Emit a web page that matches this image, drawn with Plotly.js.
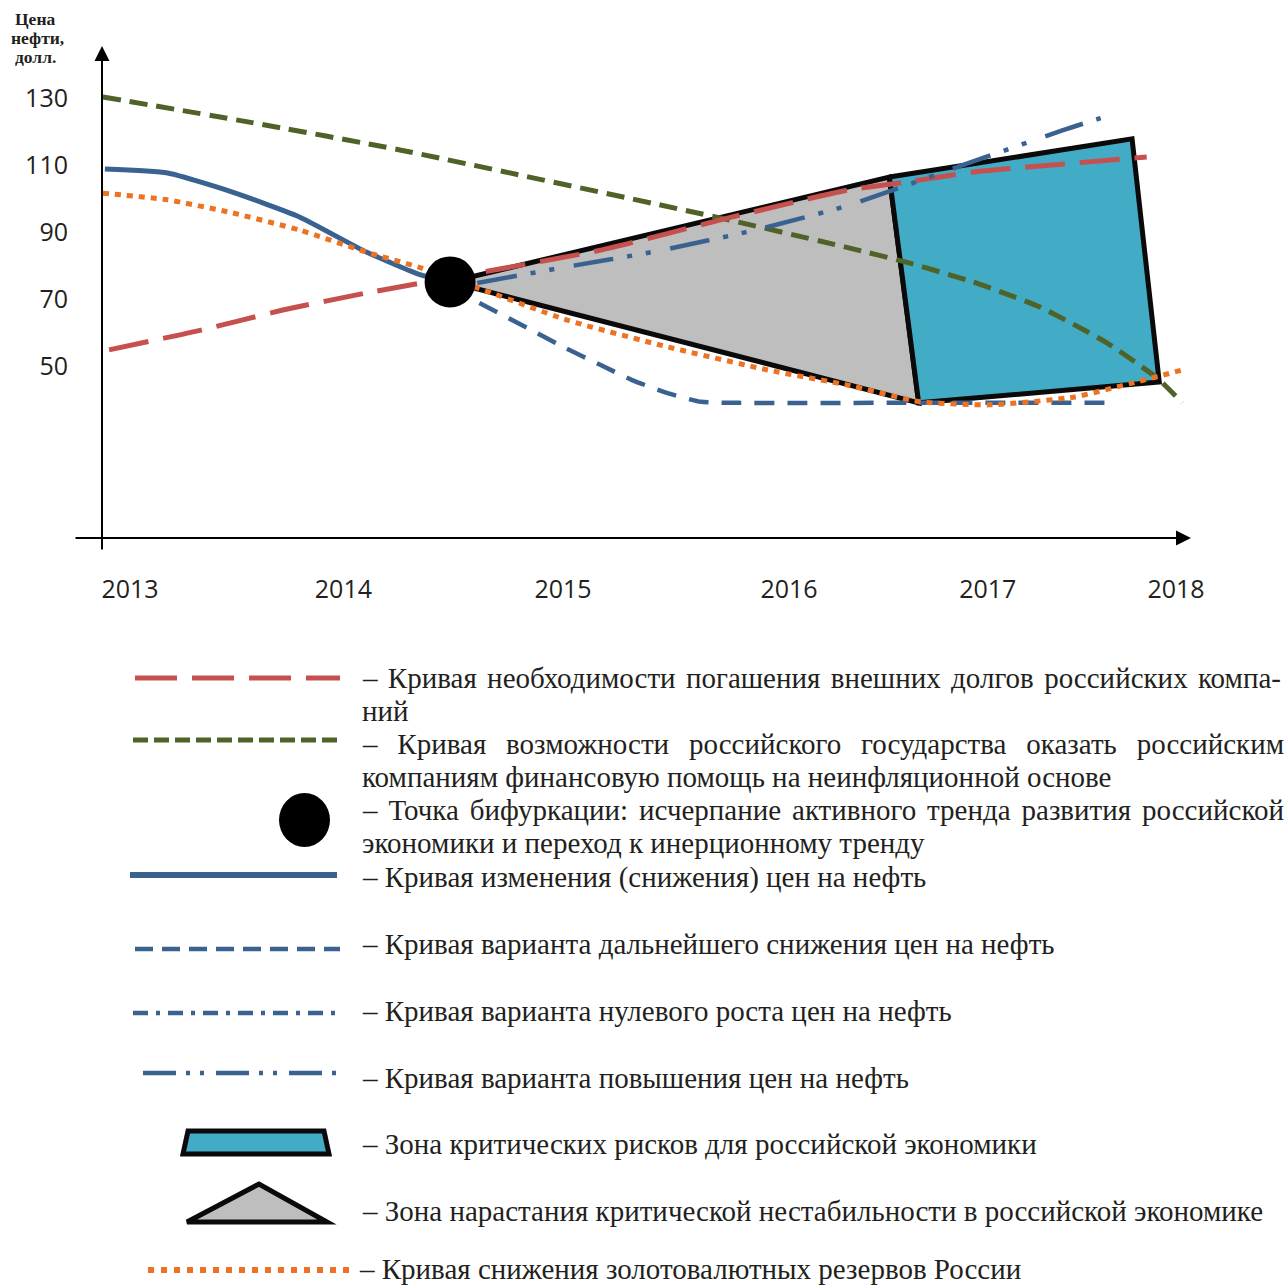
<!DOCTYPE html>
<html><head><meta charset="utf-8">
<script src="https://cdn.plot.ly/plotly-3.0.1.min.js"></script>
<style>body{margin:0;background:#fff}</style>
</head><body><div id="chart" style="width:1285px;height:1285px"></div>
<script>
// ---------- DATA ----------
const yearTicks  = [2013.00, 2014.02, 2015.07, 2016.15, 2017.10, 2018.00];
const yearLabels = ['2013', '2014', '2015', '2016', '2017', '2018'];
const priceTicks = [50, 70, 90, 110, 130];

// Debt repayment need (red dashed)
const debtX = [2012.90, 2013.34, 2013.73, 2014.13, 2014.53, 2015.25, 2015.88, 2016.43, 2016.71, 2017.03, 2017.35, 2017.86];
const debtY = [54.8, 60.7, 66.7, 71.8, 76.3, 84.6, 94.5, 102.5, 104.9, 107.9, 109.7, 112.4];

// State capacity to help (green dashed)
const stateX = [2012.87, 2013.57, 2014.29, 2015.82, 2016.44, 2016.71, 2017.03, 2017.35, 2017.67, 2017.91, 2018.03];
const stateY = [130.3, 122.8, 114.5, 94.2, 85.2, 81.0, 75.1, 67.6, 56.9, 46.4, 39.0];

// Oil price change (blue solid)
const priceX = [2012.88, 2013.18, 2013.49, 2013.81, 2014.13, 2014.39, 2014.53];
const priceY = [108.8, 107.6, 101.9, 94.5, 84.0, 77.2, 75.1];

// Further decline variant (blue dashed)
const declineX = [2014.67, 2014.92, 2015.08, 2015.25, 2015.40, 2015.57, 2015.73, 2015.91, 2016.68, 2017.67];
const declineY = [68.8, 60.7, 55.4, 50.3, 45.8, 41.9, 39.3, 39.0, 39.0, 39.0];

// Price growth variant (blue dash-dot-dot)
const growthX = [2014.66, 2015.06, 2015.52, 2015.99, 2016.41, 2016.55, 2017.01, 2017.46, 2017.64];
const growthY = [74.8, 79.3, 84.3, 90.6, 97.5, 100.4, 110.6, 120.4, 124.0];

// FX reserves decline (orange dotted)
const reservesX = [2012.87, 2013.18, 2013.49, 2013.81, 2014.13, 2014.39, 2014.53, 2014.66, 2015.09, 2015.57, 2016.05, 2016.43, 2016.78, 2017.11, 2017.51, 2017.79, 2018.03];
const reservesY = [101.6, 99.6, 95.7, 90.6, 84.0, 79.3, 75.7, 73.3, 63.7, 55.7, 48.8, 44.3, 39.3, 38.4, 40.7, 44.9, 48.8];

// Bifurcation point
const bifX = [2014.53];
const bifY = [75.1];

// Zone of growing instability (grey triangle)
const instabX = [2014.53, 2016.63, 2016.77, 2014.53];
const instabY = [75.1, 106.4, 39.0, 75.1];

// Zone of critical risks (blue quadrilateral)
const riskX = [2016.63, 2017.79, 2017.92, 2016.77, 2016.63];
const riskY = [106.4, 117.8, 45.2, 39.0, 106.4];

const yTitleLines = ['Цена', 'нефти,', 'долл.'];
const legendTexts = [
  ['– Кривая необходимости погашения внешних долгов российских компа-', 'ний'],
  ['– Кривая возможности российского государства оказать российским', 'компаниям финансовую помощь на неинфляционной основе'],
  ['– Точка бифуркации: исчерпание активного тренда развития российской', 'экономики и переход к инерционному тренду'],
  ['– Кривая изменения (снижения) цен на нефть'],
  ['– Кривая варианта дальнейшего снижения цен на нефть'],
  ['– Кривая варианта нулевого роста цен на нефть'],
  ['– Кривая варианта повышения цен на нефть'],
  ['– Зона критических рисков для российской экономики'],
  ['– Зона нарастания критической нестабильности в российской экономике'],
  ['– Кривая снижения золотовалютных резервов России']
];

// ---------- LAYOUT HELPERS ----------
const W = 1285, H = 1285;
const px2x = px => 2013 + (px - 130) / 209.2;
const px2y = py => 130 - (py - 98) / 3.35;
const P = px => px / W;
const Q = py => 1 - py / H;

const RED = '#C6504E', GREEN = '#4F6228', BLUE = '#3A6291', ORANGE = '#EC7224';
const CYAN = '#42ABC6', GREY = '#BEBEBE', INK = '#231F20';

function curve(x, y, color, width, dash) {
  return {x, y, type: 'scatter', mode: 'lines', hoverinfo: 'skip', showlegend: false,
    line: {color, width, dash, shape: 'spline', smoothing: 0.5}};
}
function poly(x, y, fill) {
  return {x, y, type: 'scatter', mode: 'lines', fill: 'toself', fillcolor: fill,
    hoverinfo: 'skip', showlegend: false, line: {color: '#0a0a0a', width: 5}};
}

const traces = [
  poly(instabX, instabY, GREY),
  poly(riskX, riskY, CYAN),
  curve(stateX, stateY, GREEN, 5, '18px,9px'),
  curve(debtX, debtY, RED, 5, '40px,15px'),
  curve(priceX, priceY, BLUE, 5, 'solid'),
  curve(declineX, declineY, BLUE, 4.5, '20px,13px'),
  curve(growthX, growthY, BLUE, 4.5, '40px,14px,5px,14px,5px,20px'),
  curve(reservesX, reservesY, ORANGE, 5, '6px,6px'),
  {x: bifX, y: bifY, type: 'scatter', mode: 'markers', hoverinfo: 'skip', showlegend: false,
   marker: {color: '#000', size: 51, line: {width: 0}}}
];

// ---------- justification via canvas measurement ----------
const FONT_PX = 29, FONT_FAM = 'Liberation Serif';
const cvs = document.createElement('canvas').getContext('2d');
cvs.font = FONT_PX + 'px "' + FONT_FAM + '"';
function justify(text, target) {
  const natural = cvs.measureText(text).width;
  const n = (text.match(/ /g) || []).length;
  const ws = n ? (target - natural) / n : 0;
  return '<span style="word-spacing:' + ws.toFixed(2) + 'px">' + text + '</span>';
}

const annotations = [];
// axis arrows
annotations.push({xref: 'paper', yref: 'paper', x: P(102), y: Q(46), ax: 0, ay: 505, text: '',
  showarrow: true, arrowhead: 2, arrowsize: 1.5, arrowwidth: 2, arrowcolor: '#000'});
annotations.push({xref: 'paper', yref: 'paper', x: P(1191), y: Q(538), ax: -1117, ay: 0, text: '',
  showarrow: true, arrowhead: 2, arrowsize: 1.5, arrowwidth: 2, arrowcolor: '#000'});
// y title
const titleYs = [19, 38, 57], titleXs = [35, 37, 35];
yTitleLines.forEach((t, i) => annotations.push({xref: 'paper', yref: 'paper', x: P(titleXs[i]), y: Q(titleYs[i]),
  xanchor: 'center', yanchor: 'middle', showarrow: false, text: '<b>' + t + '</b>',
  font: {family: 'Liberation Serif', size: 17.5, color: INK}}));

// legend texts
const legRowY = [678, 744, 810, 877, 944, 1011, 1078, 1144, 1211, 1269];
const justifyTarget = [918, 921, 921];
legendTexts.forEach((lines, i) => {
  lines.forEach((t, j) => {
    let txt = t;
    if (j === 0 && lines.length > 1) txt = justify(t, justifyTarget[i]);
    annotations.push({xref: 'paper', yref: 'paper', x: P(i === 9 ? 357 : 360), y: Q(legRowY[i] + j * 33),
      xanchor: 'left', yanchor: 'middle', showarrow: false, text: txt,
      font: {family: FONT_FAM, size: FONT_PX, color: INK}});
  });
});

// legend symbols
function hline(x0, x1, y, color, width, dash) {
  return {type: 'line', xref: 'paper', yref: 'paper', x0: P(x0), x1: P(x1), y0: Q(y), y1: Q(y),
    line: {color, width, dash}};
}
function pathOf(pts) {
  return 'M' + pts.map(p => P(p[0]).toFixed(5) + ',' + Q(p[1]).toFixed(5)).join('L') + 'Z';
}
const shapes = [
  hline(135, 340, 678, RED, 5, '42px,15px'),
  hline(133, 340, 740, GREEN, 5, '15px,6px'),
  {type: 'circle', xref: 'paper', yref: 'paper', x0: P(279), x1: P(330), y0: Q(847), y1: Q(793),
   fillcolor: '#000', line: {width: 0}},
  hline(130, 337, 875, BLUE, 6, 'solid'),
  hline(135, 340, 949, BLUE, 4.5, '18px,9px'),
  hline(133, 340, 1013, BLUE, 4.5, '15px,8px,4px,8px'),
  hline(143, 340, 1073, BLUE, 4.5, '33px,10px,4px,10px,4px,12px'),
  {type: 'path', xref: 'paper', yref: 'paper', path: pathOf([[183,1154],[188,1131],[324,1131],[329,1154]]),
   fillcolor: CYAN, line: {color: '#0a0a0a', width: 5}},
  {type: 'path', xref: 'paper', yref: 'paper', path: pathOf([[187,1222],[259,1184],[327,1222]]),
   fillcolor: GREY, line: {color: '#0a0a0a', width: 5}},
  hline(148, 355, 1270, ORANGE, 6, '6px,7px')
];

const tickFont = {family: 'Open Sans', size: 25, color: INK};
const layout = {
  width: W, height: H, margin: {l: 0, r: 0, t: 0, b: 0},
  paper_bgcolor: '#fff', plot_bgcolor: 'rgba(0,0,0,0)', showlegend: false,
  xaxis: {domain: [P(102), P(1190)], range: [px2x(102), px2x(1190)], tickvals: yearTicks, ticktext: yearLabels,
    showgrid: false, zeroline: false, showline: false, ticks: '', ticklabelstandoff: 34, tickfont: tickFont,
    fixedrange: true},
  yaxis: {domain: [Q(538), Q(47)], range: [px2y(538), px2y(47)], tickvals: priceTicks,
    showgrid: false, zeroline: false, showline: false, ticks: '', ticklabelstandoff: 33, tickfont: tickFont,
    fixedrange: true},
  annotations, shapes
};

Plotly.newPlot('chart', traces, layout, {displayModeBar: false, staticPlot: true});
</script></body></html>
